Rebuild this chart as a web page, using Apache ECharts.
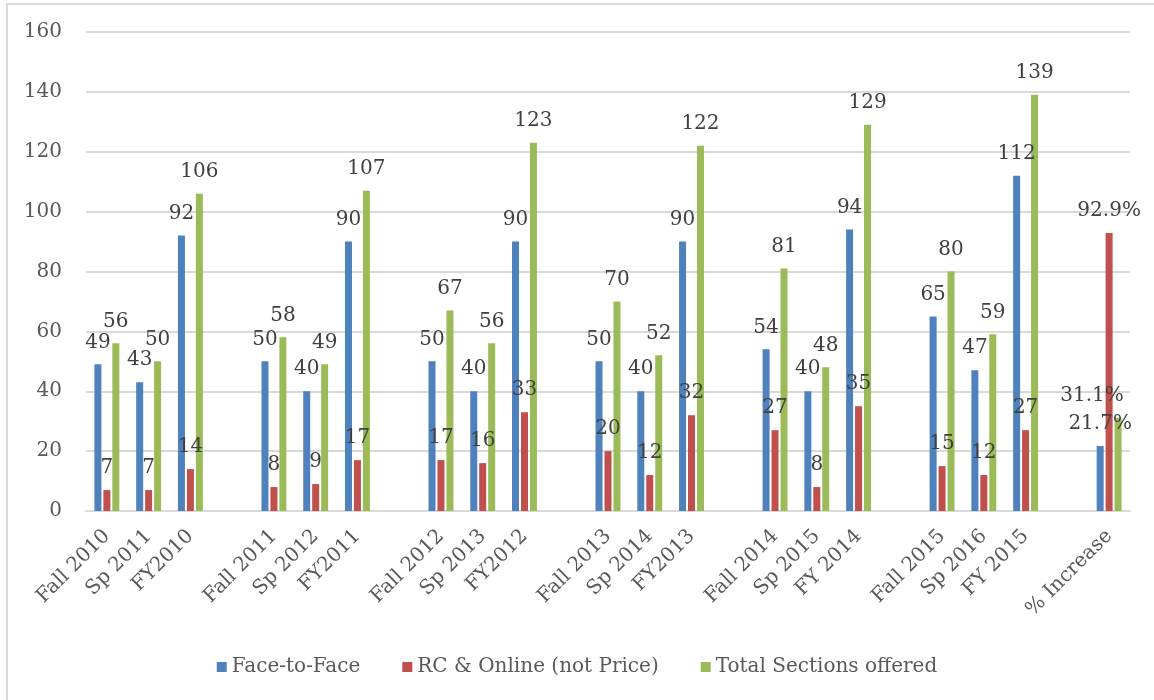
<!DOCTYPE html>
<html>
<head>
<meta charset="utf-8">
<script src="https://cdn.jsdelivr.net/npm/echarts@6/dist/echarts.min.js"></script>
<style>
  html, body { margin: 0; padding: 0; background: #fff; overflow: hidden; }
  #frame { position: absolute; left: 6px; top: 3px; width: 1200px; height: 760px; border: 2px solid #d9d9d9; box-sizing: border-box; }
  #chart { position: absolute; left: 0; top: 0; width: 1154px; height: 700px; }
</style>
</head>
<body>
<div id="frame"></div>
<div id="chart"></div>
<script>
// categories (blank entries are the gaps between years)
var categories = ['Fall 2010', 'Sp 2011', 'FY2010', '', 'Fall 2011', 'Sp 2012', 'FY2011', '',
  'Fall 2012', 'Sp 2013', 'FY2012', '', 'Fall 2013', 'Sp 2014', 'FY2013', '',
  'Fall 2014', 'Sp 2015', 'FY 2014', '', 'Fall 2015', 'Sp 2016', 'FY 2015', '', '% Increase']
var faceToFace = [49, 43, 92, null, 50, 40, 90, null, 50, 40, 90, null, 50, 40, 90, null,
  54, 40, 94, null, 65, 47, 112, null, 21.7]
var rcOnline = [7, 7, 14, null, 8, 9, 17, null, 17, 16, 33, null, 20, 12, 32, null,
  27, 8, 35, null, 15, 12, 27, null, 92.9]
var totalSections = [56, 50, 106, null, 58, 49, 107, null, 67, 56, 123, null, 70, 52, 122, null,
  81, 48, 129, null, 80, 59, 139, null, 31.1]
var seriesNames = ['Face-to-Face', 'RC & Online (not Price)', 'Total Sections offered']
var colors = ['#4f81bd', '#c0504d', '#9bbb59']

var font = 'DejaVu Serif'
var lastIdx = categories.length - 1

function barLabel(p) {
  if (p.value == null) return ''
  // the last column holds percentages
  if (p.dataIndex === lastIdx) return p.value.toFixed(1) + '%'
  return p.value
}

function makeSeries(name, data, color, shiftLast) {
  return {
    name: name,
    type: 'bar',
    data: data,
    barWidth: 7,
    barGap: '28%',
    itemStyle: { color: color },
    label: {
      show: true,
      position: 'top',
      distance: 12,
      formatter: barLabel,
      fontFamily: font,
      fontSize: 20,
      color: '#404040'
    },
    // keep the last percentage label inside the chart, like the original
    labelLayout: function (params) {
      if (shiftLast && params.dataIndex === lastIdx) return { dx: -26 }
      return {}
    }
  }
}

var chart = echarts.init(document.getElementById('chart'))
var option = {
  animation: false,
  textStyle: { fontFamily: font },
  grid: { left: 86, right: 24, top: 32, bottom: 189, containLabel: false },
  legend: {
    data: seriesNames,
    left: 'center',
    top: 652,
    itemWidth: 10,
    itemHeight: 10,
    itemGap: 42,
    icon: 'rect',
    textStyle: { fontFamily: font, fontSize: 20, color: '#595959' }
  },
  xAxis: {
    type: 'category',
    data: categories,
    axisLine: { lineStyle: { color: '#d9d9d9', width: 2 } },
    axisTick: { show: false },
    axisLabel: {
      interval: 0,
      rotate: 45,
      margin: 22,
      fontFamily: font,
      fontSize: 20,
      color: '#595959'
    }
  },
  yAxis: {
    type: 'value',
    min: 0,
    max: 160,
    interval: 20,
    axisLine: { show: false },
    axisTick: { show: false },
    axisLabel: { margin: 24, fontFamily: font, fontSize: 20, color: '#595959' },
    splitLine: { lineStyle: { color: '#d9d9d9', width: 2 } }
  },
  series: [
    makeSeries(seriesNames[0], faceToFace, colors[0], false),
    makeSeries(seriesNames[1], rcOnline, colors[1], false),
    makeSeries(seriesNames[2], totalSections, colors[2], true)
  ]
}
chart.setOption(option)
</script>
</body>
</html>
